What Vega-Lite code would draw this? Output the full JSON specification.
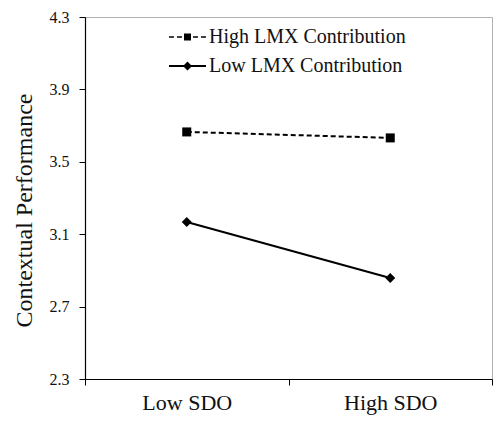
{
  "$schema": "https://vega.github.io/schema/vega-lite/v6.json",
  "width": 407,
  "height": 362,
  "autosize": {"type": "none"},
  "padding": {"left": 85, "top": 17, "right": 5, "bottom": 46},
  "background": "white",
  "config": {
    "font": "Liberation Serif",
    "view": {"stroke": "#b0b0b0", "strokeWidth": 1},
    "axis": {"domainColor": "#000", "tickColor": "#000", "labelColor": "#111", "titleColor": "#111", "labelFont": "Liberation Serif", "titleFont": "Liberation Serif", "grid": false}
  },
  "data": {
    "values": [
      {"sdo": "Low SDO", "group": "High LMX Contribution", "perf": 3.665},
      {"sdo": "High SDO", "group": "High LMX Contribution", "perf": 3.632},
      {"sdo": "Low SDO", "group": "Low LMX Contribution", "perf": 3.167},
      {"sdo": "High SDO", "group": "Low LMX Contribution", "perf": 2.858}
    ]
  },
  "encoding": {
    "x": {
      "field": "sdo", "type": "nominal", "sort": ["Low SDO", "High SDO"],
      "scale": {"paddingInner": 0, "paddingOuter": 0},
      "axis": {"title": null, "labelAngle": 0, "labelFontSize": 22, "tickSize": 6, "tickBand": "extent", "labelPadding": 7, "domainWidth": 1.2, "tickWidth": 1}
    },
    "y": {
      "field": "perf", "type": "quantitative",
      "scale": {"domain": [2.3, 4.3], "nice": false, "zero": false},
      "axis": {"title": "Contextual Performance", "values": [2.3, 2.7, 3.1, 3.5, 3.9, 4.3], "format": ".1f", "labelFontSize": 16, "titleFontSize": 24, "titleFontWeight": "normal", "tickSize": 6, "labelPadding": 10, "titlePadding": 13, "titleY": 193, "domainWidth": 1.2}
    }
  },
  "layer": [
    {
      "transform": [{"filter": "datum.group === 'High LMX Contribution'"}],
      "mark": {"type": "line", "color": "#000", "strokeWidth": 2, "strokeDash": [5, 3]},
      "encoding": {}
    },
    {
      "transform": [{"filter": "datum.group === 'Low LMX Contribution'"}],
      "mark": {"type": "line", "color": "#000", "strokeWidth": 2},
      "encoding": {}
    },
    {
      "transform": [{"filter": "datum.group === 'High LMX Contribution'"}],
      "mark": {"type": "point", "shape": "square", "filled": true, "color": "#000", "opacity": 1, "size": 81},
      "encoding": {}
    },
    {
      "transform": [{"filter": "datum.group === 'Low LMX Contribution'"}],
      "mark": {"type": "point", "shape": "diamond", "filled": true, "color": "#000", "opacity": 1, "size": 100},
      "encoding": {}
    },
    {
      "mark": {"type": "point", "filled": true, "color": "#000", "opacity": 0, "size": 0},
      "encoding": {
        "shape": {
          "field": "group", "type": "nominal",
          "scale": {"domain": ["High LMX Contribution", "Low LMX Contribution"], "range": [
            "M-1,-0.16L0,-0.16L0,0.16L-1,0.16Z M0.6,-0.16L1.6,-0.16L1.6,0.16L0.6,0.16Z M2,-0.7L3.4,-0.7L3.4,0.7L2,0.7Z M3.8,-0.16L4.8,-0.16L4.8,0.16L3.8,0.16Z M5.4,-0.16L6.4,-0.16L6.4,0.16L5.4,0.16Z",
            "M-1,-0.2L6.4,-0.2L6.4,0.2L-1,0.2Z M2.7,-0.9L3.6,0L2.7,0.9L1.8,0Z"
          ]},
          "legend": {
            "title": null,
            "orient": "none",
            "legendX": 79,
            "legendY": 10,
            "padding": 0,
            "symbolSize": 100,
            "labelOffset": 25,
            "labelFontSize": 20,
            "labelLimit": 400,
            "labelFont": "Liberation Serif",
            "labelColor": "#111",
            "rowPadding": 9,
            "symbolStrokeWidth": 0,
            "symbolFillColor": "#000",
            "symbolStrokeColor": "transparent",
            "symbolOpacity": 1
          }
        }
      }
    }
  ]
}
